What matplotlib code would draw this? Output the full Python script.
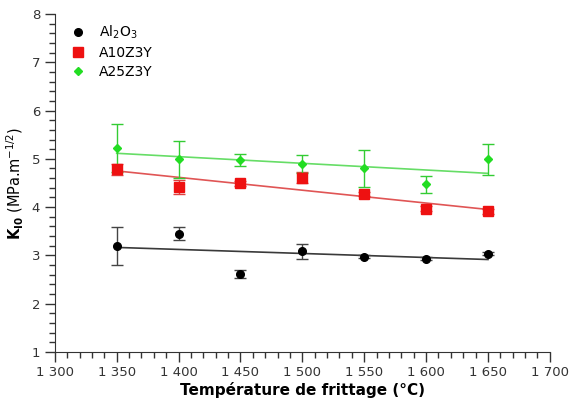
import numpy as np
import matplotlib
matplotlib.use('Agg')
import matplotlib.pyplot as plt
from matplotlib.ticker import MultipleLocator, FuncFormatter

# sintering temperatures (°C)
temps = [1350, 1400, 1450, 1500, 1550, 1600, 1650]

# K_IC values and error bars
al2o3 = [3.19, 3.45, 2.62, 3.08, 2.97, 2.93, 3.03]
al2o3_err = [0.40, 0.14, 0.08, 0.16, 0.03, 0.03, 0.03]

a10z3y = [4.78, 4.42, 4.49, 4.61, 4.27, 3.97, 3.91]
a10z3y_err = [0.12, 0.15, 0.05, 0.12, 0.04, 0.06, 0.05]

a25z3y = [5.23, 4.99, 4.98, 4.89, 4.80, 4.47, 4.99]
a25z3y_err = [0.50, 0.39, 0.13, 0.18, 0.38, 0.17, 0.32]

labels = ['Al$_2$O$_3$', 'A10Z3Y', 'A25Z3Y']

plt.rcParams['font.family'] = 'DejaVu Sans'

fig = plt.figure(figsize=(5.71, 4.03), dpi=100)
ax = fig.add_axes([0.096, 0.127, 0.867, 0.838])

series = [
    (al2o3, al2o3_err, 'o', 5.5, '#000000', '#3a3a3a', '#444444'),
    (a10z3y, a10z3y_err, 's', 7, '#ee1111', '#e05555', '#e04040'),
    (a25z3y, a25z3y_err, 'D', 4, '#22dd22', '#66dd66', '#33cc33'),
]

x = np.array(temps)
for (vals, errs, mk, ms, col, lcol, ecol), lab in zip(series, labels):
    # linear trend line (least squares fit of the measured points)
    coef = np.polyfit(x, vals, 1)
    ax.plot(x, np.polyval(coef, x), color=lcol, lw=1.2, zorder=1)
    ax.errorbar(x, vals, yerr=errs, fmt='none', ecolor=ecol, elinewidth=1.0,
                capsize=4, capthick=1.0, zorder=2)
    ax.plot(x, vals, mk, color=col, ms=ms, ls='none', label=lab, zorder=3)

ax.set_xlim(1300, 1700)
ax.set_ylim(1, 8)
ax.xaxis.set_major_locator(MultipleLocator(50))
ax.xaxis.set_minor_locator(MultipleLocator(10))
ax.yaxis.set_major_locator(MultipleLocator(1))
ax.yaxis.set_minor_locator(MultipleLocator(0.2))
ax.xaxis.set_major_formatter(FuncFormatter(lambda v, p: f"{v:,.0f}".replace(',', ' ')))

for s in ['top', 'right']:
    ax.spines[s].set_visible(False)
ax.spines['left'].set_color('#333333')
ax.spines['bottom'].set_color('#333333')
ax.tick_params(which='major', length=7, width=1, colors='#333333', labelsize=9.5,
               labelcolor='#333333')
ax.tick_params(which='minor', length=4, width=1, colors='#333333')

ax.set_xlabel('Température de frittage (°C)', fontsize=11, fontweight='bold', labelpad=2)
ax.set_ylabel(r'$\mathbf{K_{I0}}$ (MPa.m$^{-1/2}$)', fontsize=10.5, labelpad=4)

ax.legend(loc='upper left', frameon=False, fontsize=10, handletextpad=0.9,
          borderaxespad=0.3, labelspacing=0.35, handlelength=1.2,
          bbox_to_anchor=(0.01, 1.0))

fig.savefig('out.png', dpi=100)
